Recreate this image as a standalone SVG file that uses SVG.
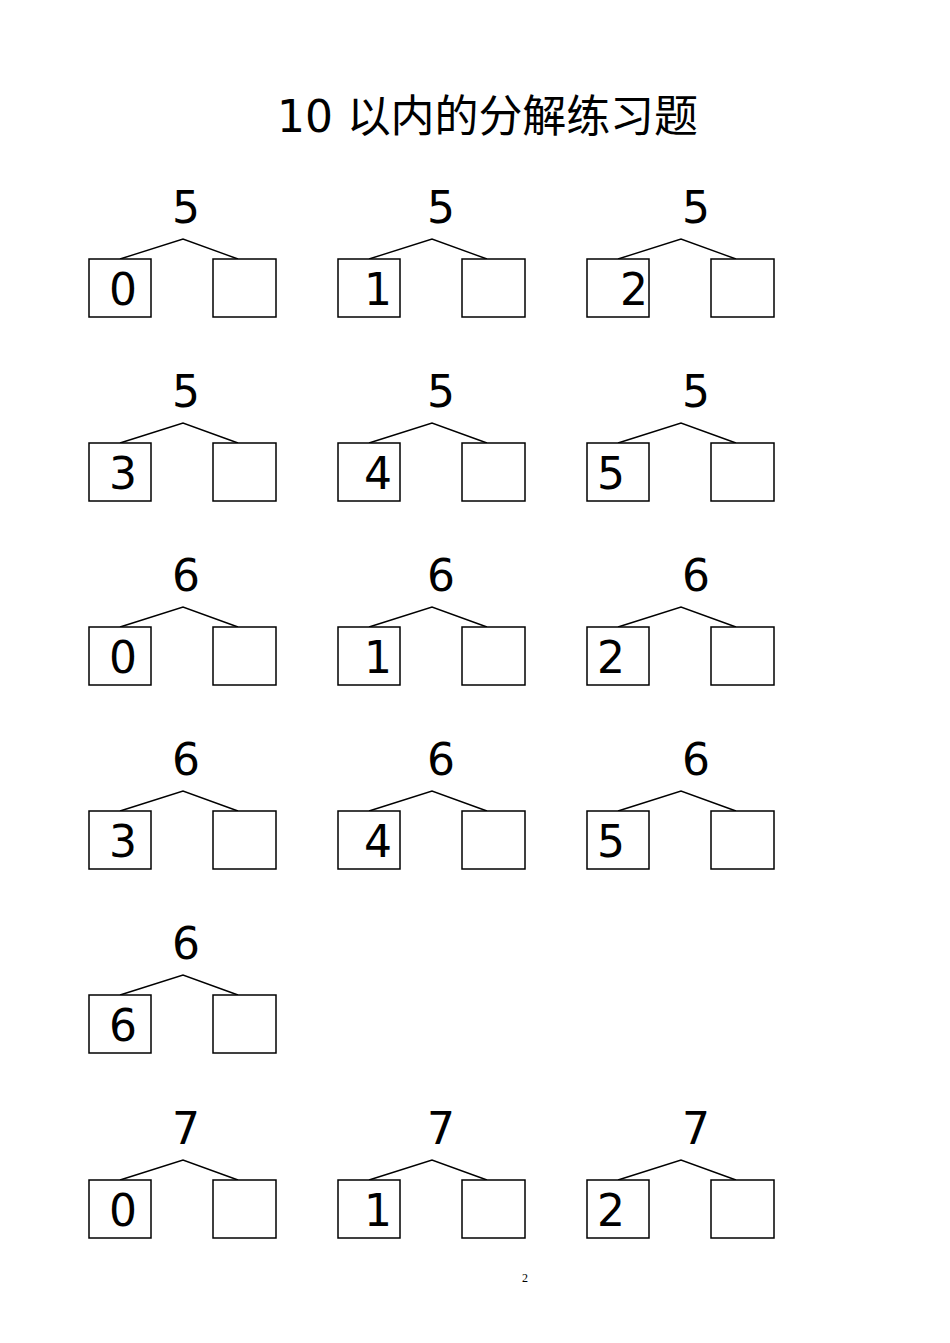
<svg xmlns="http://www.w3.org/2000/svg" width="950" height="1343" viewBox="0 0 950 1343">
<style>
.bg{fill:#fff}
.box{fill:#fff;stroke:#000;stroke-width:1.5}
.ln{stroke:#000;stroke-width:1.4;fill:none}
.num{font-family:"DejaVu Sans",Verdana,sans-serif;font-size:44px;fill:#000;text-anchor:middle}
.title{font-family:"DejaVu Sans","Noto Sans CJK SC",sans-serif;font-size:44px;fill:#000}
.pg{font-family:"Liberation Serif",serif;font-size:12px;fill:#000;text-anchor:middle}
</style>
<defs>
<g id="tree">
<rect class="box" x="89" y="0" width="62" height="58"/>
<rect class="box" x="213" y="0" width="63" height="58"/>
</g>
<g id="conn">
<polyline class="ln" points="120,0 183,-20 238,0"/>
</g>
</defs>
<rect class="bg" width="950" height="1343"/>
<text class="title" x="277" y="132" textLength="421" lengthAdjust="spacing">10 以内的分解练习题</text>

<g id="connectors">
<use href="#conn" x="0" y="259"/><use href="#conn" x="249" y="259"/><use href="#conn" x="498" y="259"/>
<use href="#conn" x="0" y="443"/><use href="#conn" x="249" y="443"/><use href="#conn" x="498" y="443"/>
<use href="#conn" x="0" y="627"/><use href="#conn" x="249" y="627"/><use href="#conn" x="498" y="627"/>
<use href="#conn" x="0" y="811"/><use href="#conn" x="249" y="811"/><use href="#conn" x="498" y="811"/>
<use href="#conn" x="0" y="995"/>
<use href="#conn" x="0" y="1180"/><use href="#conn" x="249" y="1180"/><use href="#conn" x="498" y="1180"/>
</g>

<g id="t1"><use href="#tree" x="0" y="259"/><text class="num" x="186" y="223">5</text><text class="num" x="123" y="305">0</text></g>
<g id="t2"><use href="#tree" x="249" y="259"/><text class="num" x="441" y="223">5</text><text class="num" x="378" y="305">1</text></g>
<g id="t3"><use href="#tree" x="498" y="259"/><text class="num" x="696" y="223">5</text><text class="num" x="634" y="305">2</text></g>

<g id="t4"><use href="#tree" x="0" y="443"/><text class="num" x="186" y="407">5</text><text class="num" x="123" y="489">3</text></g>
<g id="t5"><use href="#tree" x="249" y="443"/><text class="num" x="441" y="407">5</text><text class="num" x="378" y="489">4</text></g>
<g id="t6"><use href="#tree" x="498" y="443"/><text class="num" x="696" y="407">5</text><text class="num" x="611" y="489">5</text></g>

<g id="t7"><use href="#tree" x="0" y="627"/><text class="num" x="186" y="591">6</text><text class="num" x="123" y="673">0</text></g>
<g id="t8"><use href="#tree" x="249" y="627"/><text class="num" x="441" y="591">6</text><text class="num" x="378" y="673">1</text></g>
<g id="t9"><use href="#tree" x="498" y="627"/><text class="num" x="696" y="591">6</text><text class="num" x="611" y="673">2</text></g>

<g id="t10"><use href="#tree" x="0" y="811"/><text class="num" x="186" y="775">6</text><text class="num" x="123" y="857">3</text></g>
<g id="t11"><use href="#tree" x="249" y="811"/><text class="num" x="441" y="775">6</text><text class="num" x="378" y="857">4</text></g>
<g id="t12"><use href="#tree" x="498" y="811"/><text class="num" x="696" y="775">6</text><text class="num" x="611" y="857">5</text></g>

<g id="t13"><use href="#tree" x="0" y="995"/><text class="num" x="186" y="959">6</text><text class="num" x="123" y="1041">6</text></g>

<g id="t14"><use href="#tree" x="0" y="1180"/><text class="num" x="186" y="1144">7</text><text class="num" x="123" y="1226">0</text></g>
<g id="t15"><use href="#tree" x="249" y="1180"/><text class="num" x="441" y="1144">7</text><text class="num" x="378" y="1226">1</text></g>
<g id="t16"><use href="#tree" x="498" y="1180"/><text class="num" x="696" y="1144">7</text><text class="num" x="611" y="1226">2</text></g>

<text class="pg" x="525" y="1282">2</text>
</svg>
